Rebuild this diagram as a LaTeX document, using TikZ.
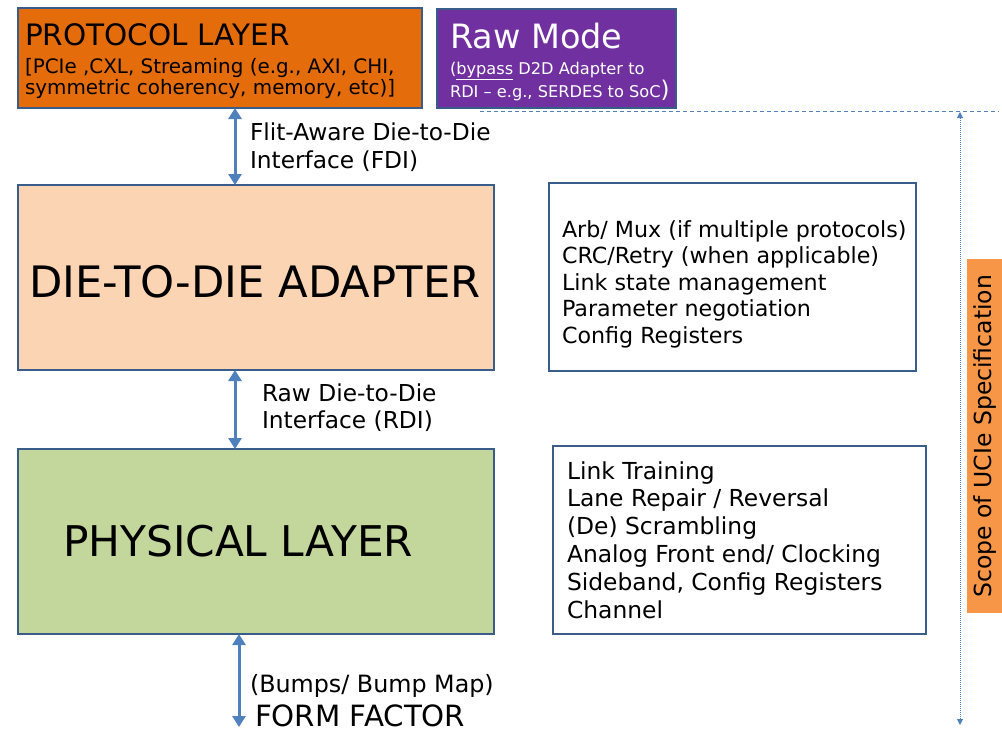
\documentclass[tikz,border=0pt]{standalone}
\usepackage{fontspec}
\setmainfont{DejaVu Sans}
\usetikzlibrary{arrows.meta}
\definecolor{edge}{HTML}{385D8A}
\definecolor{link}{HTML}{4F81BD}
\definecolor{protofill}{HTML}{E46C0A}
\definecolor{rawfill}{HTML}{7030A0}
\definecolor{d2dfill}{HTML}{FBD4B4}
\definecolor{phyfill}{HTML}{C3D69B}
\definecolor{scopefill}{HTML}{F79646}
\newcommand\fsz[1]{\fontsize{#1}{#1}\selectfont}
\tikzset{
  layerbox/.style={draw=edge, line width=2.5pt, anchor=north west, inner sep=0pt, outer sep=0pt},
  txt/.style={anchor=base west, inner sep=0pt, outer sep=0pt},
  iface/.style={line width=3pt, draw=link,
    {Triangle[width=13pt,length=11pt]}-{Triangle[width=13pt,length=11pt]}},
  scopeline/.style={line width=1pt, draw=link, densely dotted,
    {Triangle[width=6pt,length=6pt]}-{Triangle[width=6pt,length=6pt]}},
}
\begin{document}
\begin{tikzpicture}[x=1pt,y=-1pt]
\useasboundingbox (0,0) rectangle (1002,732);

% layer boxes
\node[layerbox, fill=protofill, minimum width=404pt, minimum height=100pt] (proto) at (18,8) {};
\node[layerbox, fill=rawfill, minimum width=239pt, minimum height=99pt] (raw) at (437,9) {};
\node[layerbox, fill=d2dfill, minimum width=476pt, minimum height=185pt] (adapter) at (18,185) {};
\node[layerbox, fill=white, minimum width=367pt, minimum height=188pt] (adfunc) at (549,183) {};
\node[layerbox, fill=phyfill, minimum width=476pt, minimum height=185pt] (phy) at (18,449) {};
\node[layerbox, fill=white, minimum width=373pt, minimum height=188pt] (phyfunc) at (553,446) {};
\node[anchor=north west, fill=scopefill, inner sep=0pt, minimum width=36pt, minimum height=354pt] (scope) at (967,259) {};

% protocol layer text
\node[txt] (protot) at (25,45) {\fsz{29.5}PROTOCOL LAYER};
\node[txt] (protol1) at (25,73) {\fsz{19.9}[PCIe ,CXL, Streaming (e.g., AXI, CHI,};
\node[txt] (protol2) at (25,94) {\fsz{19.9}symmetric coherency, memory, etc)]};

% raw mode text
\node[txt, text=white] (rawt) at (450,48) {\fsz{33.5}Raw Mode};
\node[txt, text=white] (rawl1) at (450,74) {\fsz{16.2}(\underline{bypass} D2D Adapter to};
\node[txt, text=white] (rawl2) at (450,97) {\fsz{16.2}RDI – e.g., SERDES to SoC{\fsz{23})}};

% main layer titles
\node[txt] (adaptert) at (29,297) {\fsz{43.3}DIE-TO-DIE ADAPTER};
\node[txt] (phyt) at (63,556) {\fsz{42.3}PHYSICAL LAYER};

% adapter functions
\foreach \t [count=\i] in {Arb/ Mux (if multiple protocols),
    CRC/Retry (when applicable), Link state management,
    Parameter negotiation, Config Registers}
  \node[txt] (adf\i) at (562,{237+26.5*(\i-1)}) {\fsz{22.2}\t};

% physical layer functions
\foreach \t [count=\i] in {Link Training, Lane Repair / Reversal,
    (De) Scrambling, Analog Front end/ Clocking,
    {Sideband, Config Registers}, Channel}
  \node[txt] (phf\i) at (567,{479+27.8*(\i-1)}) {\fsz{23.4}\t};

% interface labels
\node[txt] (fdi1) at (250,140) {\fsz{23.3}Flit-Aware Die-to-Die};
\node[txt] (fdi2) at (250,168) {\fsz{23.3}Interface (FDI)};
\node[txt] (rdi1) at (262,401) {\fsz{23.3}Raw Die-to-Die};
\node[txt] (rdi2) at (262,428) {\fsz{23.3}Interface (RDI)};
\node[txt] (bump) at (250,692) {\fsz{23.8}(Bumps/ Bump Map)};
\node[txt] (ff) at (255,726) {\fsz{29.3}FORM FACTOR};

% interface arrows
\coordinate (fdix) at (235,0);
\coordinate (rdix) at (235,0);
\coordinate (ffx) at (239,0);
\coordinate (ffend) at (239,727);
\draw[iface] (proto.south -| fdix) -- (adapter.north -| fdix);
\draw[iface] (adapter.south -| rdix) -- (phy.north -| rdix);
\draw[iface] (phy.south -| ffx) -- (ffend);

% scope of the specification
\coordinate (scopetop) at (960,112);
\coordinate (scopebot) at (960,725);
\coordinate (dashl) at (480,111);
\coordinate (dashr) at (999,111);
\draw[link, line width=1pt, dash pattern=on 4pt off 3pt] (dashl) -- (dashr);
\draw[scopeline] (scopetop) -- (scopebot);
\node[rotate=90, inner sep=0pt] (scopet) at (scope.center) {\fsz{23.5}Scope of UCIe Specification};
\end{tikzpicture}
\end{document}
